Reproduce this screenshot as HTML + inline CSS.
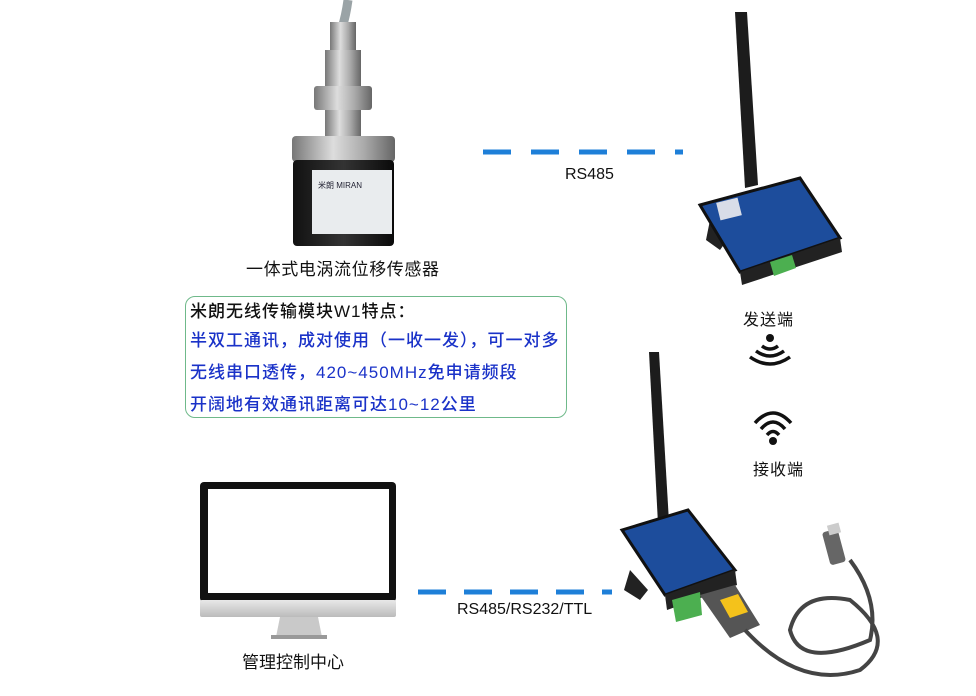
<!DOCTYPE html>
<html><head><meta charset="utf-8"><style>
body{margin:0;width:976px;height:696px;background:#fff;overflow:hidden;position:relative;font-family:"Liberation Sans","Noto Sans CJK SC",sans-serif}
.t{position:absolute;font-size:16px;color:#111;white-space:nowrap}
.box{position:absolute;left:185px;top:296px;width:380px;height:120px;border:1.5px solid #6fb98a;border-radius:10px}
.box div{position:absolute;left:4px;font-size:17px;letter-spacing:1px;white-space:nowrap;font-weight:500}
</style></head><body>
<svg width="976" height="696" style="position:absolute;left:0;top:0">
<defs>
<linearGradient id="met" x1="0" x2="1"><stop offset="0" stop-color="#777"/><stop offset=".4" stop-color="#ddd"/><stop offset=".7" stop-color="#aaa"/><stop offset="1" stop-color="#666"/></linearGradient>
<linearGradient id="blk" x1="0" x2="1"><stop offset="0" stop-color="#111"/><stop offset=".5" stop-color="#333"/><stop offset="1" stop-color="#0a0a0a"/></linearGradient>
<linearGradient id="chin" x1="0" x2="0" y1="0" y2="1"><stop offset="0" stop-color="#e8e8e8"/><stop offset="1" stop-color="#bbb"/></linearGradient>
</defs>
<path d="M348 0 Q346 15 342 28" stroke="#9aa3a6" stroke-width="9" fill="none"/>
<rect x="330" y="22" width="26" height="30" fill="url(#met)"/>
<rect x="325" y="50" width="36" height="90" fill="url(#met)"/>
<rect x="314" y="86" width="58" height="24" rx="3" fill="url(#met)"/>
<rect x="292" y="136" width="103" height="26" rx="4" fill="url(#met)"/>
<rect x="293" y="160" width="101" height="86" rx="4" fill="url(#blk)"/>
<rect x="312" y="170" width="80" height="64" fill="#e9ecee"/>
<text x="318" y="188" font-size="8" fill="#223">米朗 MIRAN</text>
<line x1="483" y1="152" x2="683" y2="152" stroke="#1e7fd8" stroke-width="5" stroke-dasharray="28 20"/>
<line x1="418" y1="592" x2="612" y2="592" stroke="#1e7fd8" stroke-width="5" stroke-dasharray="28 18"/>
<path d="M735 12 L747 12 L758 185 L745 188 Z" fill="#1c1c1c"/>
<path d="M712 210 L730 236 L720 250 L706 240 Z" fill="#222"/>
<path d="M700 205 L800 178 L840 238 L740 272 Z" fill="#1d4d9c" stroke="#111" stroke-width="3"/>
<path d="M740 272 L840 238 L842 252 L742 285 Z" fill="#222"/>
<rect x="718" y="200" width="22" height="18" fill="#d8dde8" transform="rotate(-14 729 209)"/>
<path d="M770 262 L792 255 L796 268 L774 276 Z" fill="#4caf50"/>
<circle cx="770" cy="338" r="4" fill="#111"/>
<path d="M762 346 Q770 352 778 346" stroke="#111" stroke-width="3.5" fill="none"/>
<path d="M756 351 Q770 361 784 351" stroke="#111" stroke-width="3.5" fill="none"/>
<path d="M750 357 Q770 371 790 357" stroke="#111" stroke-width="3.5" fill="none"/>
<path d="M755 423 Q773 403 791 423" stroke="#111" stroke-width="3.5" fill="none"/>
<path d="M761 429 Q773 415 785 429" stroke="#111" stroke-width="3.5" fill="none"/>
<path d="M767 435 Q773 428 779 435" stroke="#111" stroke-width="3.5" fill="none"/>
<circle cx="773" cy="441" r="4" fill="#111"/>
<rect x="200" y="482" width="196" height="120" rx="4" fill="#111"/>
<rect x="208" y="489" width="181" height="104" fill="#fff"/>
<rect x="200" y="600" width="196" height="17" rx="2" fill="url(#chin)"/>
<path d="M280 617 L318 617 L322 637 L276 637 Z" fill="#c9c9c9"/>
<rect x="271" y="635" width="56" height="4" fill="#999"/>
<path d="M649 352 L659 352 L669 522 L658 524 Z" fill="#1c1c1c"/>
<path d="M630 570 L648 590 L640 600 L624 590 Z" fill="#222"/>
<path d="M622 530 L688 510 L735 570 L665 595 Z" fill="#1d4d9c" stroke="#111" stroke-width="3"/>
<path d="M665 595 L735 570 L737 585 L667 610 Z" fill="#222"/>
<path d="M672 600 L700 592 L702 615 L676 622 Z" fill="#4caf50"/>
<path d="M700 595 L735 585 L760 625 L730 638 Z" fill="#555"/>
<path d="M720 600 L738 594 L748 612 L730 618 Z" fill="#f4c21b"/>
<path d="M745 630 Q800 690 860 670 Q900 640 850 600 Q800 590 790 630 Q800 670 870 640 Q880 600 850 560" stroke="#444" stroke-width="4" fill="none"/>
<rect x="826" y="530" width="16" height="34" rx="3" fill="#666" transform="rotate(-15 834 547)"/>
<rect x="828" y="524" width="12" height="10" fill="#ccc" transform="rotate(-15 834 529)"/>
</svg>
<div class="t" style="left:246px;top:255px;font-size:17px;letter-spacing:.6px">一体式电涡流位移传感器</div>
<div class="t" style="left:565px;top:166px;font-size:16px">RS485</div>
<div class="t" style="left:743px;top:306px;letter-spacing:1px">发送端</div>
<div class="t" style="left:753px;top:456px;letter-spacing:1px">接收端</div>
<div class="t" style="left:457px;top:601px">RS485/RS232/TTL</div>
<div class="t" style="left:242px;top:648px;font-size:17px">管理控制中心</div>
<div class="box">
<div style="top:0px;color:#111">米朗无线传输模块W1特点：</div>
<div style="top:29px;color:#1a32c8">半双工通讯，成对使用（一收一发），可一对多</div>
<div style="top:61px;color:#1a32c8">无线串口透传，420~450MHz免申请频段</div>
<div style="top:93px;color:#1a32c8">开阔地有效通讯距离可达10~12公里</div>
</div>
</body></html>
